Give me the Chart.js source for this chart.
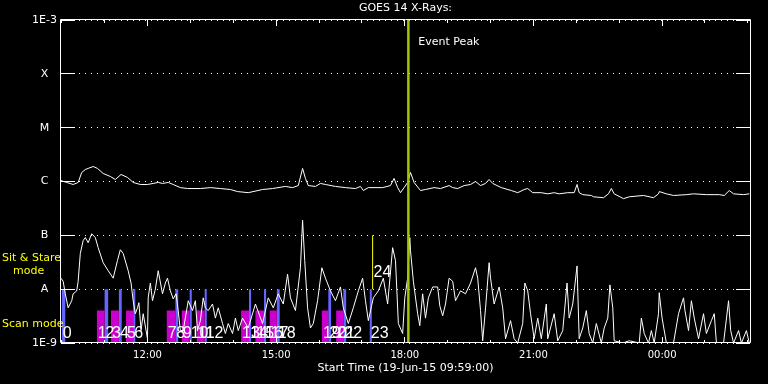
<!DOCTYPE html>
<html><head><meta charset="utf-8">
<script src="https://cdn.jsdelivr.net/npm/chart.js@4.4.0/dist/chart.umd.min.js"></script>
<style>html,body{margin:0;padding:0;background:#000;}canvas{display:block}</style>
</head><body>
<canvas id="c" width="768" height="384"></canvas>
<script>
// ---- axes ----
const xMin = 0, xMax = 964;               // minutes after 19-Jun-15 09:59:00
const tickMinutes = [121, 301, 481, 661, 841];
const tickLabels = ['12:00', '15:00', '18:00', '21:00', '00:00'];
const hourMinutes = [1,61,121,181,241,301,361,421,481,541,601,661,721,781,841,901,961];
const levelValues = [1e-9, 1e-8, 1e-7, 1e-6, 1e-5, 1e-4, 1e-3];
const levelLabels = ['1E-9', 'A', 'B', 'C', 'M', 'X', '1E-3'];

// ---- GOES long channel (upper curve) ----
const longTime = [0,8,17,24,29,34,38,45,51,59, 69,76,84,93,101,111,121,129,136,142,
  150,157,167,177,195,209,223,237,247,262, 282,296,314,324,332,338,342,346,356,363,
  370,384,398,412,419,423,430,450,461,466, 471,475,480,485,489,494,503,510,522,531,
  543,548,555,564,573,580,587,594,599,604, 616,630,639,648,653,660,672,681,690,697,
  709,718,722,725,730,742,745,759,766,770, 774,787,795,815,829,836,837,847,857,875,
  885,903,921,928,935,941,955,963];
const longFlux = [1.04e-6,9.6e-7,8.8e-7,9.6e-7,1.47e-6,1.67e-6,1.75e-6,1.9e-6,1.75e-6,1.41e-6,
  1.24e-6,1.09e-6,1.35e-6,1.19e-6,9.6e-7,8.8e-7,8.8e-7,9.2e-7,9.6e-7,9.2e-7,
  9.6e-7,8.8e-7,7.7e-7,7.4e-7,7.4e-7,7.7e-7,7.4e-7,7.1e-7,6.5e-7,6.2e-7,
  7.1e-7,7.4e-7,8.1e-7,7.7e-7,8.4e-7,1.75e-6,1.14e-6,8.4e-7,8.1e-7,9.2e-7,
  8.8e-7,8.1e-7,7.7e-7,7.4e-7,8.1e-7,6.8e-7,7.7e-7,7.7e-7,8.4e-7,1.14e-6,
  7.7e-7,6.2e-7,7.7e-7,9.6e-7,1.47e-6,9.6e-7,6.8e-7,7.1e-7,7.7e-7,7.4e-7,
  8.4e-7,7.7e-7,7.4e-7,8.4e-7,8.8e-7,1.0e-6,8.4e-7,9.2e-7,1.09e-6,9.2e-7,
  7.7e-7,6.8e-7,6.2e-7,7.1e-7,7.4e-7,6.2e-7,6.2e-7,5.9e-7,6.2e-7,5.9e-7,
  6.2e-7,6.2e-7,8.8e-7,6.2e-7,5.7e-7,5.5e-7,5.2e-7,5.0e-7,5.9e-7,7.4e-7,
  5.9e-7,4.8e-7,5.2e-7,5.5e-7,5.0e-7,5.9e-7,6.5e-7,5.9e-7,5.5e-7,5.7e-7,
  5.9e-7,5.7e-7,5.7e-7,5.5e-7,6.8e-7,5.9e-7,5.7e-7,5.9e-7];

// ---- GOES short channel (lower curve) ----
const shortTime = [0,3,6,10,15,17,22,24,27,31, 34,38,43,48,52,59,66,73,79,83,
  87,94,98,101,104,107,109,112,115,121, 122,125,128,132,136,142,146,149,153,157,
  161,164,167,171,178,184,188,191,195,199, 202,206,212,216,220,226,230,234,240,244,
  248,254,262,272,282,290,297,304,311,317, 321,328,335,338,341,345,349,353,359,365,
  370,377,384,391,395,402,409,416,422,426, 430,437,444,451,457,464,468,472,478,481,
  485,488,489,493,499,502,506,510,514,520, 527,530,534,538,543,548,552,559,566,573,
  580,583,587,590,594,599,601,606,613,618, 622,629,634,639,646,649,653,657,662,667,
  672,679,681,690,695,702,708,711,716,722, 725,730,735,739,744,749,756,760,765,768,
  772,774,786,795,809,812,816,822,826,830, 836,837,841,847,857,864,871,873,878,882,
  886,892,899,903,910,914,917,927,934,937, 941,948,952,959,963];
const shortFlux = [1.6e-8,1.4e-8,8.2e-9,4.5e-9,6.1e-9,8.2e-9,9.3e-9,1.4e-8,4.6e-8,8.0e-8,
  9.1e-8,7.3e-8,1.07e-7,9.1e-8,5.9e-8,3.1e-8,2.2e-8,1.6e-8,3.4e-8,5.4e-8,
  4.6e-8,2.2e-8,1.3e-8,6.1e-9,3.5e-9,4.5e-9,5.6e-9,1.7e-9,3.5e-9,1.2e-9,
  6.9e-9,1.3e-8,6.1e-9,1.0e-8,2.2e-8,8.2e-9,1.3e-8,1.6e-8,9.3e-9,6.6e-9,
  8.2e-9,4.0e-9,1.7e-9,1.7e-9,6.1e-9,4.0e-9,6.1e-9,1.7e-9,2.6e-9,6.9e-9,
  4.5e-9,4.0e-9,5.3e-9,2.9e-9,4.5e-9,2.3e-9,1.5e-9,2.3e-9,1.5e-9,2.9e-9,
  1.7e-9,2.9e-9,1.9e-9,5.3e-9,2.3e-9,6.9e-9,4.5e-9,8.2e-9,5.3e-9,1.9e-8,
  6.9e-9,4.0e-9,2.5e-8,1.9e-7,3.4e-8,4.5e-9,1.9e-9,2.3e-9,6.1e-9,2.5e-8,
  1.6e-8,9.3e-9,6.1e-9,1.1e-8,4.5e-9,2.3e-9,4.5e-9,9.3e-9,1.6e-8,6.1e-9,
  2.6e-9,6.9e-9,9.3e-9,1.6e-8,5.3e-9,5.9e-8,3.4e-8,2.3e-9,1.5e-9,6.9e-9,
  1.6e-8,9.1e-8,5.2e-8,1.4e-8,3.5e-9,2.1e-9,8.2e-9,2.9e-9,6.9e-9,1.1e-8,
  1.1e-8,4.9e-9,3.2e-9,5.3e-9,1.6e-8,1.4e-8,6.1e-9,9.3e-9,8.2e-9,1.3e-8,
  2.5e-8,1.6e-8,4.0e-9,1.1e-9,4.5e-9,3.1e-8,1.6e-8,5.3e-9,1.1e-8,4.5e-9,
  1.2e-9,2.6e-9,1.2e-9,1.0e-9,2.3e-9,1.3e-8,9.3e-9,3.5e-9,1.2e-9,2.9e-9,
  1.2e-9,5.3e-9,1.2e-9,3.5e-9,1.1e-9,1.7e-9,1.3e-8,2.9e-9,5.3e-9,2.7e-8,
  1.2e-9,1.9e-9,4.0e-9,1.5e-9,1.0e-9,2.3e-9,1.0e-9,1.9e-9,2.9e-9,1.2e-8,
  4.5e-9,1.1e-9,1.0e-9,1.1e-9,1.0e-9,2.9e-9,1.5e-9,1.0e-9,1.7e-9,1.0e-9,
  3.5e-9,8.6e-9,2.9e-9,1.0e-9,1.0e-9,3.5e-9,6.9e-9,4.0e-9,1.7e-9,6.1e-9,
  2.9e-9,1.2e-9,3.5e-9,1.5e-9,2.6e-9,3.5e-9,1.0e-9,1.0e-9,6.1e-9,1.7e-9,
  1.0e-9,1.7e-9,1.0e-9,1.7e-9,1.0e-9];

// ---- IRIS observations (numbered) ----
const obsLabel = ['0','1','2','3','4','5','6','7','8','9','10','11','12','13','14','15','16','17','18','19','20','21','22','23','24'];
const obsStart = [1,50,61,70,81,91,101,148,160,169,180,190,201,252,263,272,284,292,302,365,374,385,395,432,436];
const obsEnd   = [6,61,66,81,85,101,104,160,164,180,183,201,204,263,266,284,287,302,306,374,378,395,399,435,436];
const obsMode  = ['blue','scan','blue','scan','blue','scan','blue','scan','blue','scan','blue','scan','blue',
                  'scan','blue','scan','blue','scan','blue','scan','blue','scan','blue','blue','stare'];
const eventPeakTime = 486;

const yMin = 1e-9, yMax = 1e-3;
function barPoints(mode, top) {
  const pts = [];
  obsMode.forEach((m, i) => {
    if (m !== mode) return;
    pts.push({x: obsStart[i], y: yMin}, {x: obsStart[i], y: top}, {x: obsEnd[i], y: top}, {x: obsEnd[i], y: yMin});
  });
  return pts;
}
function stareLines() {
  const pts = [];
  obsMode.forEach((m, i) => { if (m === 'stare') pts.push({x: obsStart[i], y: 1e-8}, {x: obsStart[i], y: 1e-7}); });
  return pts;
}

const bgPlugin = {
  id: 'bg',
  beforeDraw(chart) { const c = chart.ctx; c.save(); c.fillStyle = '#000'; c.fillRect(0, 0, chart.width, chart.height); c.restore(); }
};
const framePlugin = {
  id: 'frame',
  afterDraw(chart) {
    const {ctx, chartArea: {left, right, top, bottom}, scales: {x, y}} = chart;
    ctx.save();
    ctx.strokeStyle = '#fff'; ctx.lineWidth = 1;
    ctx.beginPath();
    ctx.moveTo(left - 0.5, top - 0.5); ctx.lineTo(right + 0.5, top - 0.5);
    ctx.lineTo(right + 0.5, bottom - 0.5); ctx.lineTo(left - 0.5, bottom - 0.5); ctx.closePath();
    levelValues.forEach(v => {
      const py = Math.round(y.getPixelForValue(v) - 0.5) + 0.5;
      ctx.moveTo(left, py); ctx.lineTo(left + 14, py);
      ctx.moveTo(right - 14, py); ctx.lineTo(right, py);
    });
    hourMinutes.forEach(m => {
      const px = Math.round(x.getPixelForValue(m) - 0.5) + 0.5;
      const len = tickMinutes.includes(m) ? 6 : 3;
      ctx.moveTo(px, top); ctx.lineTo(px, top + len);
      ctx.moveTo(px, bottom); ctx.lineTo(px, bottom - len);
    });
    ctx.stroke();
    ctx.restore();
  }
};
const annotatePlugin = {
  id: 'annotate',
  afterDatasetsDraw(chart) {
    const {ctx, scales: {x, y}} = chart;
    ctx.save();
    ctx.fillStyle = '#fff'; ctx.textAlign = 'left'; ctx.textBaseline = 'middle';
    ctx.font = '16px "Liberation Sans"';
    obsLabel.forEach((t, i) => {
      const yy = obsMode[i] === 'stare' ? y.getPixelForValue(2e-8) : y.getPixelForValue(1.5e-9);
      ctx.fillText(t, x.getPixelForValue(obsStart[i]) + 1, yy);
    });
    ctx.font = '11px "DejaVu Sans"';
    ctx.fillText('Event Peak', x.getPixelForValue(eventPeakTime) + 10, y.getPixelForValue(3.8e-4));
    ctx.fillStyle = '#ffff00';
    ctx.fillText('Sit & Stare', 2, 258);
    ctx.fillText('mode', 13, 271);
    ctx.fillText('Scan mode', 2, 324);
    ctx.restore();
  }
};

const lineStyle = {borderWidth: 1, pointRadius: 0, tension: 0, fill: false};
new Chart(document.getElementById('c'), {
  type: 'line',
  data: {
    datasets: [
      Object.assign({label: 'Event Peak', data: [{x: eventPeakTime, y: yMin}, {x: eventPeakTime, y: yMax}],
        borderColor: '#a0c800', order: 0}, lineStyle, {borderWidth: 2.5}),
      Object.assign({label: 'GOES long', data: longTime.map((t, i) => ({x: t, y: longFlux[i]})),
        borderColor: '#ffffff', order: 1}, lineStyle),
      Object.assign({label: 'GOES short', data: shortTime.map((t, i) => ({x: t, y: shortFlux[i]})),
        borderColor: '#ffffff', order: 1}, lineStyle),
      Object.assign({label: 'Sit & Stare', data: stareLines(), borderColor: '#ffff00', order: 1}, lineStyle),
      {label: 'Scan', data: barPoints('scan', 4e-9), borderColor: 'rgba(0,0,0,0)', backgroundColor: '#cc00cc',
        borderWidth: 0, pointRadius: 0, tension: 0, fill: 'start', order: 2},
      {label: 'Blue', data: barPoints('blue', 1e-8), borderColor: 'rgba(0,0,0,0)', backgroundColor: '#6464ff',
        borderWidth: 0, pointRadius: 0, tension: 0, fill: 'start', order: 2}
    ]
  },
  options: {
    responsive: false, animation: false, devicePixelRatio: 1,
    layout: {padding: {left: 0, right: 18, top: 0, bottom: 0}},
    plugins: {
      legend: {display: false}, tooltip: {enabled: false},
      title: {display: true, text: 'GOES 14 X-Rays:', color: '#fff', fullSize: false,
        font: {family: 'DejaVu Sans', size: 11, weight: 'normal', lineHeight: 1.2}, padding: {top: 2, bottom: 4.8}}
    },
    scales: {
      x: {
        type: 'linear', min: xMin, max: xMax,
        afterBuildTicks: s => { s.ticks = tickMinutes.map(v => ({value: v})); },
        afterFit: s => { s.height = 41; },
        ticks: {color: '#fff', font: {family: 'DejaVu Sans', size: 10}, padding: 6, maxRotation: 0, autoSkip: false,
          callback: v => tickLabels[tickMinutes.indexOf(v)]},
        grid: {display: false, drawTicks: false},
        border: {display: false},
        title: {display: true, text: 'Start Time (19-Jun-15 09:59:00)', color: '#fff',
          font: {family: 'DejaVu Sans', size: 11}, padding: {top: 0, bottom: 9}}
      },
      y: {
        type: 'logarithmic', min: yMin, max: yMax,
        afterBuildTicks: s => { s.ticks = levelValues.map(v => ({value: v})); },
        afterFit: s => { s.width = 61; },
        ticks: {color: '#fff', font: {family: 'DejaVu Sans', size: 11}, padding: 4, crossAlign: 'center', autoSkip: false,
          callback: v => levelLabels[levelValues.findIndex(l => Math.abs(Math.log10(l) - Math.log10(v)) < 0.01)]},
        grid: {color: '#fff', lineWidth: 1, drawTicks: false},
        border: {display: false, dash: [1, 5]}
      }
    }
  },
  plugins: [bgPlugin, annotatePlugin, framePlugin]
});
</script>
</body></html>
